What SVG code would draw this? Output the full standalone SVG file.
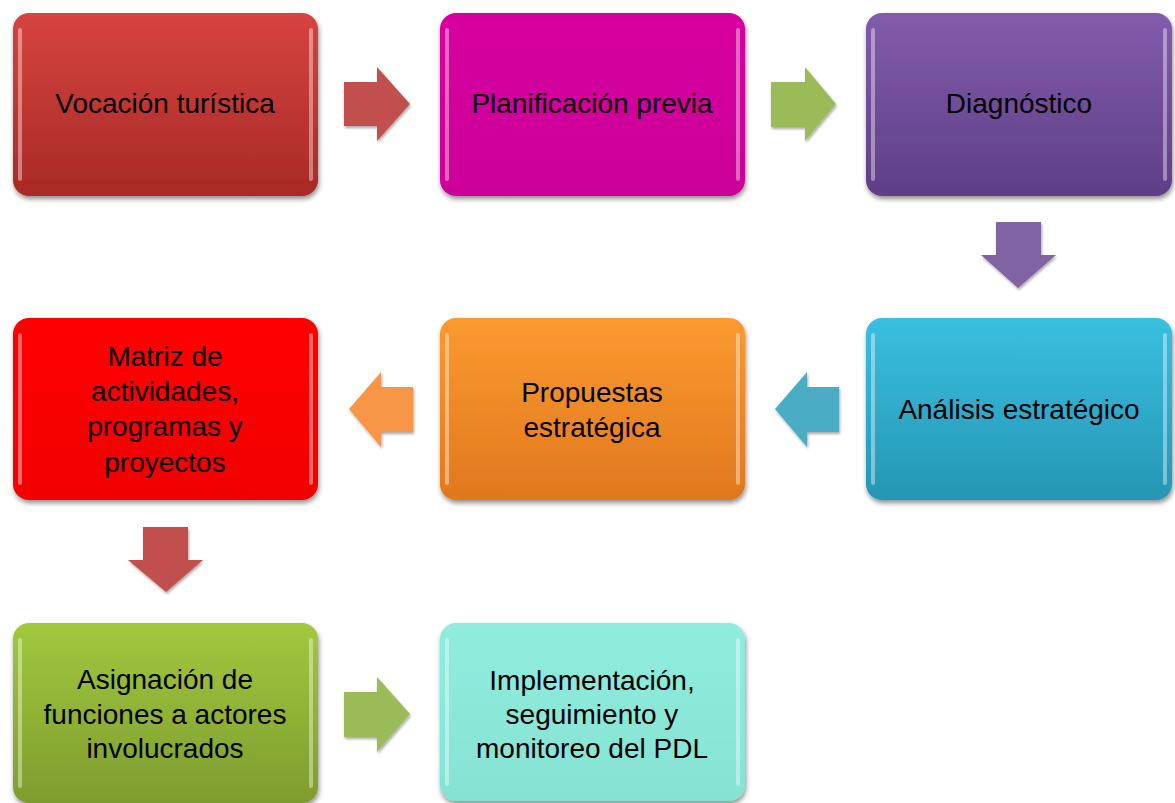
<svg xmlns="http://www.w3.org/2000/svg" width="1175" height="803" viewBox="0 0 1175 803">
<style>
.lbl{font-family:"Liberation Sans",Arial,sans-serif;font-size:28px;fill:#000;text-anchor:middle}
.box{filter:url(#sh)}
.hl{fill:none;stroke:#fff;stroke-opacity:0.4;stroke-width:4;stroke-linecap:round}
.arr{filter:url(#sh2)}
</style>
<defs>
<filter id="sh" x="-10%" y="-10%" width="125%" height="125%">
<feGaussianBlur in="SourceAlpha" stdDeviation="2.5"/>
<feOffset dx="1" dy="3" result="b"/>
<feComponentTransfer><feFuncA type="linear" slope="0.45"/></feComponentTransfer>
<feMerge><feMergeNode/><feMergeNode in="SourceGraphic"/></feMerge>
</filter>
<filter id="sh2" x="-20%" y="-20%" width="150%" height="150%">
<feGaussianBlur in="SourceAlpha" stdDeviation="1.5"/>
<feOffset dx="1" dy="2" result="b"/>
<feComponentTransfer><feFuncA type="linear" slope="0.35"/></feComponentTransfer>
<feMerge><feMergeNode/><feMergeNode in="SourceGraphic"/></feMerge>
</filter>
<linearGradient id="gRed" x1="0" y1="0" x2="0" y2="1"><stop offset="0" stop-color="#d64440"/><stop offset="1" stop-color="#a82a26"/></linearGradient>
<linearGradient id="gMag" x1="0" y1="0" x2="0" y2="1"><stop offset="0" stop-color="#d6009f"/><stop offset="1" stop-color="#cc0098"/></linearGradient>
<linearGradient id="gPur" x1="0" y1="0" x2="0" y2="1"><stop offset="0" stop-color="#825cab"/><stop offset="1" stop-color="#5e3f86"/></linearGradient>
<linearGradient id="gCya" x1="0" y1="0" x2="0" y2="1"><stop offset="0" stop-color="#3abfe0"/><stop offset="1" stop-color="#2596b4"/></linearGradient>
<linearGradient id="gOra" x1="0" y1="0" x2="0" y2="1"><stop offset="0" stop-color="#fb9a30"/><stop offset="1" stop-color="#e0781e"/></linearGradient>
<linearGradient id="gRR" x1="0" y1="0" x2="0" y2="1"><stop offset="0" stop-color="#ff0000"/><stop offset="1" stop-color="#f20000"/></linearGradient>
<linearGradient id="gGrn" x1="0" y1="0" x2="0" y2="1"><stop offset="0" stop-color="#a2c83e"/><stop offset="1" stop-color="#7e9c2e"/></linearGradient>
<linearGradient id="gAqu" x1="0" y1="0" x2="0" y2="1"><stop offset="0" stop-color="#90ecdc"/><stop offset="1" stop-color="#86e2d2"/></linearGradient>
</defs>
<rect width="1175" height="803" fill="#fff"/>

<g id="connectors">
<polygon class="arr" fill="#c0504d" points="344,82 377,82 377,67 410,104 377,141 377,126 344,126"/>
<polygon class="arr" fill="#9bbb59" points="771,82 805,82 805,67 836,104 805,141 805,127 771,127"/>
<polygon class="arr" fill="#8064a2" points="996,222 1041,222 1041,255 1056,255 1018,288 981,255 996,255"/>
<polygon class="arr" fill="#4bacc6" points="839,387 807,387 807,372 775,409 807,447 807,432 839,432"/>
<polygon class="arr" fill="#f79646" points="413,387 381,387 381,372 349,409 381,447 381,432 413,432"/>
<polygon class="arr" fill="#c0504d" points="143,527 188,527 188,560 203,560 166,592 128,560 143,560"/>
<polygon class="arr" fill="#9bbb59" points="344,692 377,692 377,677 410,714 377,752 377,737 344,737"/>
</g>

<g id="n1"><rect class="box" x="13" y="13" width="305" height="183" rx="16" fill="url(#gRed)"/><path class="hl" d="M20,30 V179 M311,30 V179"/><text class="lbl" x="165" y="113">Vocación turística</text></g>
<g id="n2"><rect class="box" x="440" y="13" width="305" height="183" rx="16" fill="url(#gMag)"/><path class="hl" d="M447,30 V179 M738,30 V179"/><text class="lbl" x="592" y="113">Planificación previa</text></g>
<g id="n3"><rect class="box" x="866" y="13" width="306" height="183" rx="16" fill="url(#gPur)"/><path class="hl" d="M873,30 V179 M1165,30 V179"/><text class="lbl" x="1019" y="113">Diagnóstico</text></g>
<g id="n4"><rect class="box" x="866" y="318" width="306" height="182" rx="16" fill="url(#gCya)"/><path class="hl" d="M873,335 V483 M1165,335 V483"/><text class="lbl" x="1019" y="419">Análisis estratégico</text></g>
<g id="n5"><rect class="box" x="440" y="318" width="305" height="182" rx="16" fill="url(#gOra)"/><path class="hl" d="M447,335 V483 M738,335 V483"/><text class="lbl" x="592" y="402">Propuestas</text><text class="lbl" x="592" y="437">estratégica</text></g>
<g id="n6"><rect class="box" x="13" y="318" width="305" height="182" rx="16" fill="url(#gRR)"/><path class="hl" d="M20,335 V483 M311,335 V483"/><text class="lbl" x="165" y="366">Matriz de</text><text class="lbl" x="165" y="401">actividades,</text><text class="lbl" x="165" y="436">programas y</text><text class="lbl" x="165" y="472">proyectos</text></g>
<g id="n7"><rect class="box" x="13" y="623" width="305" height="180" rx="16" fill="url(#gGrn)"/><path class="hl" d="M20,640 V786 M311,640 V786"/><text class="lbl" x="165" y="689">Asignación de</text><text class="lbl" x="165" y="724">funciones a actores</text><text class="lbl" x="165" y="758">involucrados</text></g>
<g id="n8"><rect class="box" x="440" y="623" width="305" height="178" rx="16" fill="url(#gAqu)"/><path class="hl" d="M447,640 V784 M738,640 V784"/><text class="lbl" x="592" y="690">Implementación,</text><text class="lbl" x="592" y="724">seguimiento y</text><text class="lbl" x="592" y="758">monitoreo del PDL</text></g>
</svg>
